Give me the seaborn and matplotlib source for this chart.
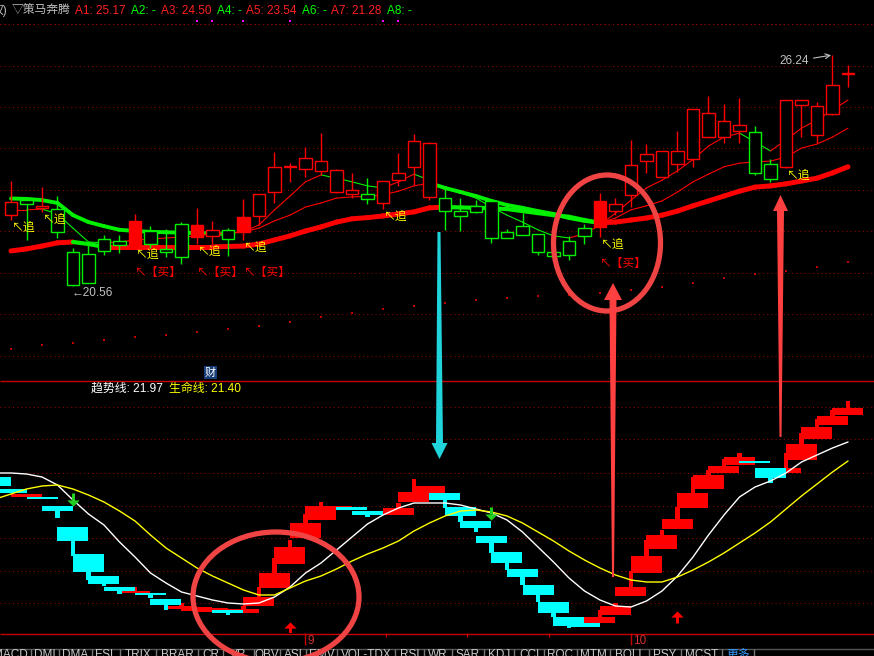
import matplotlib
matplotlib.use("Agg")
import matplotlib.pyplot as plt
import matplotlib.transforms as mtransforms
from matplotlib.patches import Ellipse, Polygon
import seaborn as sns

# ---- K-line panel: 55 trading days ----
opens = [22.31, 22.67, 22.48, 22.45, 21.40, 21.35, 21.72, 21.67, 21.57, 21.91,
         21.47, 22.08, 21.77, 21.79, 21.94, 21.89, 22.28, 22.87, 23.49, 23.44,
         23.39, 22.87, 22.82, 22.82, 22.60, 23.17, 23.49, 22.75, 22.72, 22.40,
         22.53, 22.65, 21.89, 22.04, 21.84, 21.40, 21.67, 21.99, 22.01, 22.40,
         22.80, 23.63, 23.24, 23.56, 23.68, 24.22, 24.22, 24.37, 24.35, 23.56,
         23.49, 25.01, 24.27, 24.79, 25.77]
highs = [23.14, 22.75, 23.00, 22.77, 21.49, 21.62, 21.81, 21.81, 22.33, 22.04,
         21.96, 22.13, 22.48, 22.16, 21.99, 22.70, 22.82, 23.85, 23.58, 23.98,
         24.32, 23.43, 23.34, 23.22, 23.14, 23.83, 24.30, 24.10, 22.97, 22.72,
         22.67, 22.65, 21.96, 22.36, 21.84, 21.45, 21.79, 22.08, 22.85, 22.72,
         24.15, 24.05, 23.88, 24.37, 24.91, 25.23, 25.04, 25.18, 24.49, 23.68,
         25.13, 25.13, 25.08, 26.24, 25.99]
lows = [22.18, 21.69, 22.38, 21.74, 20.56, 20.63, 21.32, 21.37, 21.52, 21.49,
        21.27, 21.10, 21.59, 21.59, 21.30, 21.69, 22.06, 22.60, 23.12, 23.24,
        23.29, 22.85, 22.72, 22.58, 22.45, 23.02, 23.04, 22.67, 21.94, 21.91,
        22.36, 21.62, 21.74, 21.81, 21.32, 21.30, 21.20, 21.59, 21.77, 22.31,
        22.50, 23.34, 23.24, 23.36, 23.49, 24.22, 24.08, 24.08, 23.29, 23.12,
        23.46, 24.22, 24.08, 24.76, 25.45]
closes = [22.63, 22.58, 22.53, 21.89, 20.58, 20.63, 21.42, 21.57, 22.16, 21.59,
          21.40, 21.27, 22.06, 21.94, 21.72, 22.26, 22.82, 23.49, 23.51, 23.71,
          23.63, 23.41, 22.92, 22.70, 23.14, 23.34, 24.13, 24.08, 22.40, 22.28,
          22.38, 21.74, 21.74, 21.81, 21.40, 21.30, 21.32, 21.79, 22.65, 22.58,
          23.54, 23.81, 23.88, 23.88, 24.91, 24.81, 24.62, 24.52, 23.34, 23.19,
          25.13, 25.13, 24.99, 25.50, 25.79]
filled_days = [8, 12, 15, 38]

ma_fast = [22.43, 22.43, 22.45, 22.33, 21.98, 21.64, 21.62, 21.64, 21.69, 21.71,
           21.74, 21.76, 21.79, 21.84, 21.86, 21.89, 22.06, 22.43, 22.77, 23.12,
           23.29, 23.21, 23.12, 23.02, 22.97, 23.12, 23.31, 23.16, 22.94, 22.85,
           22.72, 22.50, 22.30, 22.13, 21.94, 21.79, 21.74, 21.84, 22.06, 22.35,
           22.67, 22.97, 23.16, 23.39, 23.67, 24.00, 24.22, 24.32, 24.10, 23.88,
           24.15, 24.44, 24.64, 24.89, 25.13]
ma_mid = [22.71, 22.70, 22.67, 22.60, 22.30, 22.13, 22.03, 21.94, 21.91, 21.89,
          21.88, 21.87, 21.86, 21.85, 21.84, 21.89, 21.98, 22.16, 22.30, 22.50,
          22.60, 22.72, 22.75, 22.76, 22.80, 22.89, 23.02, 23.09, 22.97, 22.87,
          22.77, 22.65, 22.55, 22.48, 22.40, 22.33, 22.23, 22.16, 22.11, 22.23,
          22.43, 22.53, 22.65, 22.87, 23.12, 23.31, 23.49, 23.58, 23.61, 23.63,
          23.73, 23.95, 24.05, 24.22, 24.44]
ma_slow = [21.42, 21.47, 21.54, 21.62, 21.64, 21.59, 21.52, 21.52, 21.52, 21.52,
           21.52, 21.52, 21.52, 21.52, 21.53, 21.54, 21.59, 21.69, 21.79, 21.91,
           22.01, 22.13, 22.21, 22.24, 22.28, 22.33, 22.38, 22.48, 22.50, 22.49,
           22.48, 22.47, 22.45, 22.40, 22.35, 22.30, 22.26, 22.18, 22.11, 22.13,
           22.18, 22.23, 22.30, 22.40, 22.53, 22.65, 22.77, 22.89, 22.99, 23.02,
           23.07, 23.14, 23.21, 23.34, 23.49]
# long average, drawn as dots every other day
ma_long_days = list(range(0, 55, 2))
ma_long = [19.01, 19.11, 19.16, 19.23, 19.30, 19.35, 19.43, 19.50, 19.57, 19.67,
           19.80, 19.89, 19.99, 20.07, 20.14, 20.21, 20.26, 20.31, 20.34, 20.39,
           20.46, 20.53, 20.63, 20.75, 20.85, 20.93, 21.03, 21.15]

chase_days = [0, 2, 8, 12, 15, 24, 38, 50]
buy_days = [8, 12, 15, 38]
buy_price = [20.88, 20.88, 20.88, 21.10]
top_mark_days = [12, 13, 15, 18, 24, 25]

header_name = "▽策马奔腾"
header_items = ["A1: 25.17", "A2: -", "A3: 24.50", "A4: -",
                "A5: 23.54", "A6: -", "A7: 21.28", "A8: -"]

# ---- indicator panel (day -1 .. 54) ----
ind_days = list(range(-1, 55))
ind_open = [20.92, 20.56, 20.32, 20.32, 20.05, 19.42, 18.61, 17.95, 17.62, 17.44,
            17.44, 17.26, 16.96, 16.90, 16.87, 16.93, 16.84, 17.05, 17.59, 18.31,
            19.09, 19.63, 19.99, 20.02, 19.90, 19.81, 19.78, 20.17, 20.44, 20.44,
            20.02, 19.60, 19.15, 18.67, 18.16, 17.68, 17.17, 16.72, 16.54, 16.54,
            16.78, 17.35, 18.04, 18.76, 19.36, 19.99, 20.56, 21.04, 21.28, 21.40,
            21.19, 21.04, 21.43, 22.06, 22.48, 22.78]
ind_close = [20.65, 20.44, 20.41, 20.26, 19.90, 19.00, 18.07, 17.71, 17.50, 17.50,
             17.38, 17.08, 17.05, 17.02, 16.99, 16.84, 16.96, 17.32, 18.04, 18.82,
             19.54, 20.05, 20.05, 19.93, 19.78, 19.87, 19.99, 20.47, 20.65, 20.23,
             19.75, 19.39, 18.94, 18.34, 17.92, 17.38, 16.84, 16.45, 16.42, 16.72,
             17.05, 17.62, 18.55, 19.18, 19.66, 20.44, 20.98, 21.25, 21.52, 21.34,
             20.89, 21.19, 21.91, 22.42, 22.75, 22.99]
ind_high = [20.92, 20.56, 20.41, 20.32, 20.05, 19.42, 18.61, 17.95, 17.62, 17.62,
            17.44, 17.26, 17.14, 17.02, 16.99, 16.93, 17.05, 17.62, 18.49, 19.03,
            19.81, 20.17, 20.05, 20.02, 19.90, 19.87, 20.14, 20.86, 20.65, 20.44,
            20.02, 19.60, 19.15, 18.67, 18.16, 17.68, 17.17, 16.72, 16.54, 16.93,
            17.14, 18.10, 19.03, 19.33, 20.02, 20.92, 21.13, 21.46, 21.64, 21.40,
            21.19, 21.64, 22.24, 22.66, 22.93, 23.20]
ind_low = [20.65, 20.44, 20.32, 20.26, 19.69, 18.55, 17.83, 17.65, 17.41, 17.44,
           17.29, 16.93, 16.96, 16.90, 16.87, 16.78, 16.84, 17.05, 17.59, 18.31,
           19.09, 19.63, 19.99, 19.93, 19.72, 19.81, 19.78, 20.17, 20.44, 19.99,
           19.57, 19.27, 18.64, 18.13, 17.68, 17.17, 16.72, 16.39, 16.42, 16.54,
           16.78, 17.35, 18.04, 18.76, 19.36, 19.99, 20.56, 21.04, 21.28, 21.34,
           20.74, 21.04, 21.43, 22.06, 22.48, 22.78]
trend = [21.04, 21.04, 21.01, 20.92, 20.68, 20.23, 19.81, 19.48, 18.97, 18.52,
         18.04, 17.74, 17.47, 17.35, 17.23, 17.14, 17.11, 17.14, 17.32, 17.62,
         18.04, 18.34, 18.73, 19.12, 19.51, 19.78, 19.99, 20.14, 20.14, 20.14,
         20.08, 19.96, 19.84, 19.63, 19.27, 18.82, 18.37, 17.89, 17.50, 17.23,
         17.05, 17.02, 17.20, 17.50, 17.95, 18.52, 19.18, 19.78, 20.32, 20.62,
         20.80, 21.04, 21.37, 21.58, 21.79, 21.97]
life = [20.26, 20.41, 20.56, 20.65, 20.68, 20.56, 20.38, 20.17, 19.90, 19.60,
        19.18, 18.79, 18.49, 18.19, 17.95, 17.74, 17.53, 17.38, 17.38, 17.59,
        17.80, 17.95, 18.16, 18.40, 18.61, 18.79, 19.00, 19.30, 19.54, 19.75,
        19.90, 19.93, 19.87, 19.75, 19.54, 19.27, 19.00, 18.70, 18.43, 18.19,
        17.98, 17.83, 17.77, 17.77, 17.92, 18.13, 18.37, 18.64, 18.94, 19.24,
        19.57, 19.96, 20.35, 20.71, 21.07, 21.40]
sell_days = [4, 31]
sell_tip = [20.05, 19.63]
buy_sig_days = [18, 43]
buy_sig_tip = [16.57, 16.90]
month_days = [19, 40]
month_labels = ["9", "10"]

tabs = ["MACD", "DMI", "DMA", "FSL", "TRIX", "BRAR", "CR", "VR", "OBV", "ASI",
        "EMV", "VOL-TDX", "RSI", "WR", "SAR", "KDJ", "CCI", "ROC", "MTM", "BOLL",
        "PSY", "MCST", "更多"]

RED = "#ff0000"
GRN = "#00f000"
CYN = "#00ffff"
YEL = "#ffff00"
GRAY = "#c0c0c0"
GRID = "#9a0000"
CJK = ["Noto Sans CJK SC", "DejaVu Sans"]

sns.set_theme(style="dark", rc={"axes.facecolor": "black", "figure.facecolor": "black",
                                "savefig.facecolor": "black"})
plt.rcParams["font.family"] = ["Liberation Sans", "Noto Sans CJK SC", "DejaVu Sans"]

W, H = 874, 656
fig = plt.figure(figsize=(W / 100, H / 100), dpi=100)
ax = fig.add_axes([0, 1 - 380 / H, 1, 380 / H])
axb = fig.add_axes([0, 1 - 633 / H, 1, 253 / H])
ov = fig.add_axes([0, 0, 1, 1])
ov.set_xlim(0, W)
ov.set_ylim(H, 0)
ov.axis("off")

xl = (-11 / 15.5, 863 / 15.5)
for a in (ax, axb):
    a.set_xlim(*xl)
    a.set_axis_off()
ax.set_ylim(18.245, 27.593)
axb.set_ylim(16.24, 23.83)

dots = (0, (1, 3))
ax.hlines([27.00, 25.98, 24.96, 23.94, 22.92, 21.90, 20.88, 19.86, 18.84], *xl,
          colors=GRID, linestyles=dots, lw=0.75, zorder=1)
axb.hlines([23.02, 22.05, 21.04, 20.05, 19.09, 18.10, 17.14], *xl,
           colors=GRID, linestyles=dots, lw=0.75, zorder=1)


def slope_line(a, vals, lw_up, lw_dn, z):
    for i in range(len(vals) - 1):
        up = vals[i + 1] >= vals[i]
        a.plot([i, i + 1], [vals[i], vals[i + 1]], color=RED if up else GRN,
               lw=lw_up if up else lw_dn, solid_capstyle="round", zorder=z)


ax.scatter(ma_long_days, ma_long, s=2.5, marker="s", color="#c00000", lw=0, zorder=2)
slope_line(ax, ma_slow, 3.6, 3.0, 2)
slope_line(ax, ma_mid, 0.8, 2.8, 3)
slope_line(ax, ma_fast, 0.8, 0.8, 3)

# candles
for i in range(len(opens)):
    o, c = opens[i], closes[i]
    col = RED if c >= o else GRN
    ax.vlines(i, lows[i], highs[i], color=col, lw=1, zorder=4)
    face = col if i in filled_days else "black"
    ax.bar(i, max(abs(c - o), 0.01), bottom=min(o, c), width=0.8,
           facecolor=face, edgecolor=col, lw=1, zorder=5)

ax.scatter(top_mark_days, [27.08] * len(top_mark_days), s=4, marker="s",
           color="#ff00ff", lw=0, zorder=6)

for i in chase_days:
    ax.annotate("↖追", xy=(i, lows[i]), xytext=(0.7, -0.7), textcoords="offset points",
                color=YEL, fontsize=8.5, family=CJK, ha="left", va="top", zorder=7)
for i, p in zip(buy_days, buy_price):
    ax.text(i, p, "↖【买】", color=RED, fontsize=8.5, family=CJK,
            ha="left", va="center", zorder=7)

hi_day = highs.index(max(highs))
ax.annotate(f"{max(highs):.2f}", xy=(hi_day, max(highs)), xytext=(-17, -4.5),
            textcoords="offset points", color=GRAY, fontsize=8.5, ha="right", va="center",
            arrowprops=dict(arrowstyle="->", color=GRAY, lw=0.8, shrinkA=1, shrinkB=1))
lo_day = lows.index(min(lows))
ax.annotate(f"←{min(lows):.2f}", xy=(lo_day, min(lows)), xytext=(-0.8, -0.5),
            textcoords="offset points", color=GRAY, fontsize=8.5, ha="left", va="top")

# indicator boxes: red first, cyan on top
for up_pass in (True, False):
    for k, i in enumerate(ind_days):
        o, c = ind_open[k], ind_close[k]
        up = c >= o
        if up != up_pass:
            continue
        col = RED if up else CYN
        axb.bar(i, ind_high[k] - ind_low[k], bottom=ind_low[k], width=0.26,
                color=col, lw=0, zorder=3)
        axb.bar(i, max(abs(c - o), 0.04), bottom=min(o, c), width=2.0,
                color=col, lw=0, zorder=3)

sns.lineplot(x=ind_days, y=trend, color="white", lw=1, ax=axb, zorder=5)
sns.lineplot(x=ind_days, y=life, color=YEL, lw=1, ax=axb, zorder=5)

flat_tri = [(-1, 0.5), (1, 0.5), (0, -0.5)]
up_tri = [(-1, -0.5), (1, -0.5), (0, 0.5)]
axb.scatter(sell_days, [t + 0.09 for t in sell_tip], marker=flat_tri, s=80,
            color="#20d020", lw=0, zorder=6)
axb.vlines(sell_days, [t + 0.17 for t in sell_tip], [t + 0.39 for t in sell_tip],
           color="#20d020", lw=2.2, zorder=6)
axb.scatter(buy_sig_days, [t - 0.08 for t in buy_sig_tip], marker=up_tri, s=80,
            color=RED, lw=0, zorder=6)
axb.vlines(buy_sig_days, [t - 0.15 for t in buy_sig_tip], [t - 0.36 for t in buy_sig_tip],
           color=RED, lw=2.2, zorder=6)

# ---- frame, header and texts (pixel overlay) ----
ov.hlines([380.5, 633.5], 0, W, colors="#c80000", lw=1)
ov.hlines(24, 0, W, colors=GRID, linestyles=dots, lw=0.75)

tx = mtransforms.blended_transform_factory(axb.transData, ov.transData)
ov.vlines(month_days, 633, 645, colors="#c80000", lw=1, transform=tx)
ov.vlines([24.2, 29.4, 34.7], 633, 637, colors="#c80000", lw=1, transform=tx)
for d, lab in zip(month_days, month_labels):
    ov.annotate(lab, xy=(d, 641), xycoords=tx, xytext=(1.5, 0), textcoords="offset points",
                color="#d03030", fontsize=8.5, ha="left", va="center")

ov.text(-8, 10.5, "权)", color=GRAY, fontsize=8.5, va="center", ha="left")
ov.text(12, 10.5, header_name, color=GRAY, fontsize=8.5, va="center", ha="left")
head_x = [75, 131, 161, 217, 246, 302, 331, 387]
for j, (s, x) in enumerate(zip(header_items, head_x)):
    ov.text(x, 10.5, s, color="#ff2020" if j % 2 == 0 else "#00ff00",
            fontsize=8.5, va="center", ha="left")
ov.text(-5, 117, "】", color="#00ff00", fontsize=8.5, va="center", ha="left")

ov.text(210.5, 372.5, "财", color="white", fontsize=8, ha="center", va="center",
        bbox=dict(boxstyle="square,pad=0.12", fc="#183c78", ec="none"))
ov.text(91, 389, f"趋势线: {trend[-1]:.2f}", color="white", fontsize=8.6, va="center", ha="left")
ov.text(169, 389, f"生命线: {life[-1]:.2f}", color=YEL, fontsize=8.6, va="center", ha="left")

# tab bar
edges = [-10, 31, 59, 92, 120, 156, 198, 223, 254, 280, 306, 337, 395, 424, 452, 484,
         514, 544, 577, 610, 649, 681, 722, 754]
ov.hlines(649, 0, W, colors="#555555", lw=1)
ov.vlines(edges[1:], 649, 656, colors="#777777", lw=1)
for k, name in enumerate(tabs):
    ov.text((edges[k] + edges[k + 1]) / 2, 649.5, name,
            color="#3399ff" if name == "更多" else "#c8c8c8",
            fontsize=8.5, ha="center", va="top")

# hand-drawn marks
for cx, cy, w, h in [(607, 243, 107, 136), (276, 597, 166, 130)]:
    ov.add_patch(Ellipse((cx, cy), w, h, fill=False, ec="#f04444", lw=3.8, zorder=10))
ov.add_patch(Polygon([(437.5, 232), (440.5, 232), (443, 443), (447.5, 443), (439.5, 459),
                      (431.5, 443), (436, 443)], closed=True, fc="#20d4dc", ec="none", zorder=10))
ov.add_patch(Polygon([(613, 283), (622, 300), (616.5, 300), (614, 577), (612, 577),
                      (609.5, 300), (604, 300)], closed=True, fc="#ff4040", ec="none", zorder=10))
ov.add_patch(Polygon([(780.5, 195), (788, 211), (784, 211), (781.5, 437), (779.5, 437),
                      (777, 211), (773, 211)], closed=True, fc="#ff4040", ec="none", zorder=10))

fig.savefig("out.png", dpi=100, facecolor="black")
